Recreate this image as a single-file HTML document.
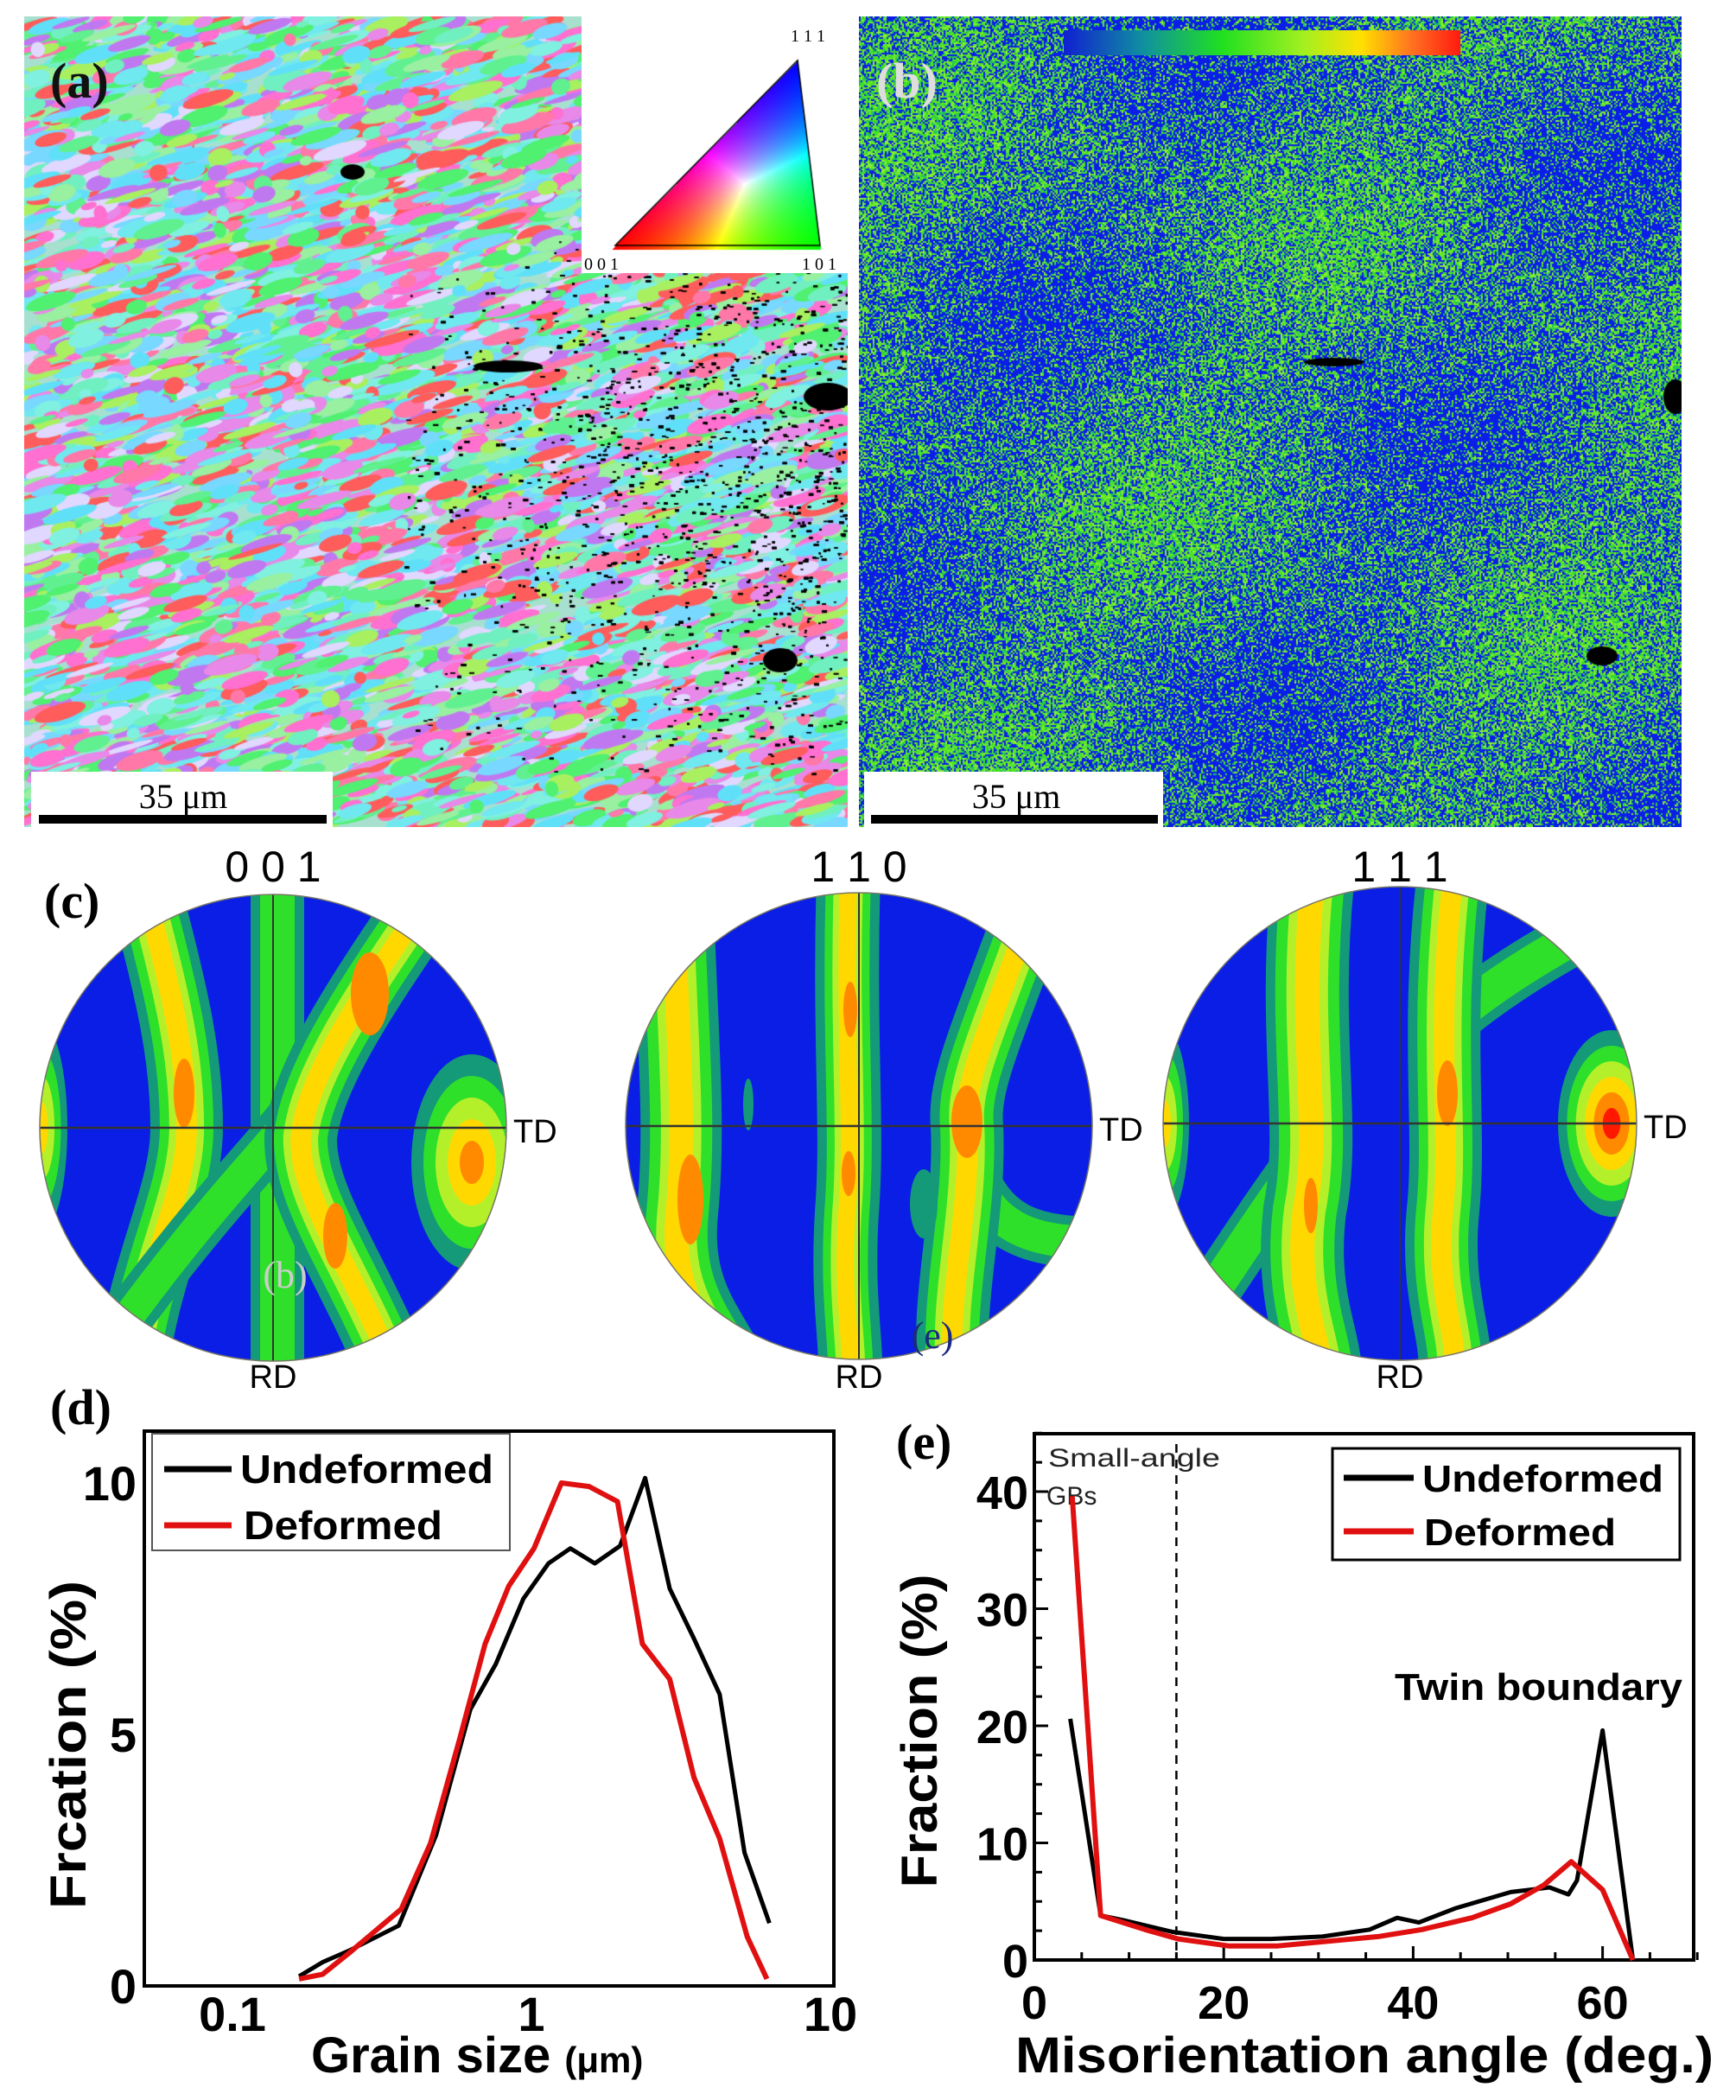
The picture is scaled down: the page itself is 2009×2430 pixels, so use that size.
<!DOCTYPE html>
<html><head><meta charset="utf-8">
<style>
html,body{margin:0;padding:0;background:#fff;}
#wrap{position:relative;width:2009px;height:2430px;overflow:hidden;background:#fff;}
canvas{position:absolute;}
svg{position:absolute;left:0;top:0;}
</style></head>
<body>
<div id="wrap">
<canvas id="mapA" width="953" height="938" style="left:28px;top:19px"></canvas>
<canvas id="mapB" width="952" height="938" style="left:994px;top:19px"></canvas>
<canvas id="tri" width="308" height="297" style="left:673px;top:19px"></canvas>
<svg id="fig" width="2009" height="2430" xmlns="http://www.w3.org/2000/svg">
<defs>
<linearGradient id="cbar" x1="0" x2="1" y1="0" y2="0">
<stop offset="0" stop-color="#1020d0"/><stop offset="0.2" stop-color="#1090a0"/><stop offset="0.4" stop-color="#20e020"/><stop offset="0.6" stop-color="#a0f020"/><stop offset="0.75" stop-color="#ffe000"/><stop offset="0.88" stop-color="#ff7020"/><stop offset="1" stop-color="#ff1a10"/>
</linearGradient>
<clipPath id="c1"><circle cx="316" cy="1305" r="270"/></clipPath>
<clipPath id="c2"><circle cx="994" cy="1303" r="270"/></clipPath>
<clipPath id="c3"><circle cx="1620" cy="1300" r="274"/></clipPath>
</defs>
<text x="58" y="113" font-family="Liberation Serif, serif" font-weight="bold" font-size="58" fill="#111">(a)</text>
<text x="1014" y="113" font-family="Liberation Serif, serif" font-weight="bold" font-size="58" fill="#ddd">(b)</text>
<text x="915" y="48" font-family="Liberation Serif, serif" font-size="20">1 1 1</text>
<text x="676" y="312" font-family="Liberation Serif, serif" font-size="20">0 0 1</text>
<text x="928" y="312" font-family="Liberation Serif, serif" font-size="20">1 0 1</text>
<rect x="1231" y="35" width="459" height="29" fill="url(#cbar)"/>
<g>
<rect x="36" y="893" width="349" height="64" fill="#fff"/>
<rect x="45" y="943" width="333" height="10" fill="#000"/>
<text x="212" y="935" text-anchor="middle" font-family="Liberation Serif, serif" font-size="40">35 μm</text>
</g>
<g>
<rect x="1000" y="893" width="346" height="64" fill="#fff"/>
<rect x="1008" y="943" width="332" height="10" fill="#000"/>
<text x="1176" y="935" text-anchor="middle" font-family="Liberation Serif, serif" font-size="40">35 μm</text>
</g>
<text x="51" y="1062" font-family="Liberation Serif, serif" font-weight="bold" font-size="58">(c)</text>
<g id="pfs"></g>
<g id="chartD"></g>
<g id="chartE"></g>
</svg>
</div>
<script>
// ---------- chart d data ----------
const dUndefX = [0.167,0.2,0.245,0.36,0.48,0.625,0.76,0.94,1.14,1.35,1.63,1.98,2.4,2.9,3.5,4.26,5.16,6.25];
const dUndefY = [0.19,0.47,0.7,1.2,3.0,5.5,6.4,7.7,8.4,8.7,8.4,8.75,10.1,7.9,6.9,5.8,2.65,1.25];
const dDefX = [0.167,0.2,0.245,0.367,0.46,0.575,0.7,0.84,1.02,1.26,1.56,1.94,2.35,2.9,3.5,4.26,5.27,6.13];
const dDefY = [0.14,0.23,0.65,1.53,2.84,4.9,6.8,7.95,8.7,10.0,9.93,9.63,6.8,6.1,4.14,2.93,0.98,0.14];
const dYTicks = [0,5,10];
const dXTicks = [0.1,1,10];
const dXTickLabels = ["0.1","1","10"];
// ---------- chart e data ----------
const eUndefX = [3.8,7,9.4,14.6,20,25,30.4,35.4,38.3,40.6,44.4,50.3,54.4,56.4,57.3,60,63.2];
const eUndefY = [20.6,3.8,3.4,2.4,1.8,1.8,2.0,2.6,3.6,3.2,4.4,5.8,6.2,5.6,6.8,19.6,0];
const eDefX = [4,7,11.7,15.2,20.5,25.7,31,36.3,40.9,46.2,50.3,53.8,56.7,60,63.2];
const eDefY = [39.6,3.8,2.6,1.8,1.2,1.2,1.6,2.0,2.6,3.6,4.8,6.4,8.4,6,0];
const eYTicks = [0,10,20,30,40];
const eXTicks = [0,20,40,60];
const eBoundary = [15];

const NS = "http://www.w3.org/2000/svg";
function mk(tag, attrs, parent, txt){
  const e = document.createElementNS(NS, tag);
  for (const k in attrs) e.setAttribute(k, attrs[k]);
  if (txt !== undefined) e.textContent = txt;
  parent.appendChild(e); return e;
}
const F = "Liberation Sans, Arial, sans-serif";

(function(){
  const g = document.getElementById('chartD');
  const L=167,R=965,T=1656,B=2298;
  const xd = v => 615 + Math.log10(v)*346;
  const yd = v => B - v*58.2;
  let t = mk('text',{x:58,y:1648,'font-family':'Liberation Serif, serif','font-weight':'bold','font-size':58},g,'(d)');
  
  
  let fr = mk('rect',{x:L,y:T,width:R-L,height:B-T,fill:'none',stroke:'#000','stroke-width':4},g);
  
  
  dYTicks.forEach(v=>{
    const e = mk('text',{x:158,y:yd(v)+20,'text-anchor':'end','font-family':F,'font-weight':'bold','font-size':56},g,String(v));
    
    
  });
  dXTicks.forEach((v,i)=>{
    const e = mk('text',{x:xd(v),y:2350,'text-anchor':'middle','font-family':F,'font-weight':'bold','font-size':56},g,dXTickLabels[i]);
    
    
  });
  const xt = mk('text',{x:360,y:2398,'font-family':F,'font-weight':'bold','font-size':58},g);
  
  
  xt.innerHTML = 'Grain size <tspan font-size="42">(μm)</tspan>';
  const yt = mk('text',{x:0,y:0,'text-anchor':'middle','font-family':F,'font-weight':'bold','font-size':58,textLength:380,lengthAdjust:'spacingAndGlyphs',transform:'translate(99,2019) rotate(-90)'},g,'Frcation (%)');
  
  
  const pts = (xs,ys)=>xs.map((x,i)=>xd(x).toFixed(1)+','+yd(ys[i]).toFixed(1)).join(' ');
  const l1 = mk('polyline',{points:pts(dUndefX,dUndefY),fill:'none',stroke:'#000','stroke-width':5,'stroke-linejoin':'round'},g);
  
  
  const l2 = mk('polyline',{points:pts(dDefX,dDefY),fill:'none',stroke:'#e01010','stroke-width':6,'stroke-linejoin':'round'},g);
  
  
  const lg = mk('g',{},g);
  
  
  mk('rect',{x:176,y:1659,width:414,height:135,fill:'#fff',stroke:'#555','stroke-width':2},lg);
  mk('line',{x1:190,y1:1700,x2:268,y2:1700,stroke:'#000','stroke-width':7},lg);
  mk('text',{x:278,y:1716,'font-family':F,'font-weight':'bold','font-size':46,textLength:293,lengthAdjust:'spacingAndGlyphs'},lg,'Undeformed');
  mk('line',{x1:190,y1:1765,x2:268,y2:1765,stroke:'#e01010','stroke-width':7},lg);
  mk('text',{x:282,y:1781,'font-family':F,'font-weight':'bold','font-size':46,textLength:230,lengthAdjust:'spacingAndGlyphs'},lg,'Deformed');
})();

(function(){
  const g = document.getElementById('chartE');
  const L=1197,R=1960,T=1659,B=2268;
  const xe = v => L + v*10.96;
  const ye = v => B - v*13.55;
  let t = mk('text',{x:1037,y:1688,'font-family':'Liberation Serif, serif','font-weight':'bold','font-size':58},g,'(e)');
  
  
  let fr = mk('rect',{x:L,y:T,width:R-L,height:B-T,fill:'none',stroke:'#000','stroke-width':4},g);
  
  
  for(let v=0; v<=45; v+=2.5){
    const len = (v%10===0)?16:9;
    mk('line',{x1:L,y1:ye(v),x2:L+len,y2:ye(v),stroke:'#000','stroke-width':3},g);
  }
  for(let v=0; v<=70; v+=5){
    const len = (v%20===0)?16:9;
    mk('line',{x1:xe(v),y1:B,x2:xe(v),y2:B-len,stroke:'#000','stroke-width':3},g);
  }
  eYTicks.forEach(v=>{
    const e = mk('text',{x:1190,y:ye(v)+20,'text-anchor':'end','font-family':F,'font-weight':'bold','font-size':54},g,String(v));
    
    
  });
  eXTicks.forEach(v=>{
    const e = mk('text',{x:xe(v),y:2336,'text-anchor':'middle','font-family':F,'font-weight':'bold','font-size':54},g,String(v));
    
    
  });
  const xt = mk('text',{x:1175,y:2398,'font-family':F,'font-weight':'bold','font-size':58,textLength:808,lengthAdjust:'spacingAndGlyphs'},g,'Misorientation angle (deg.)');
  
  
  const yt = mk('text',{x:0,y:0,'text-anchor':'middle','font-family':F,'font-weight':'bold','font-size':58,textLength:363,lengthAdjust:'spacingAndGlyphs',transform:'translate(1084,2003) rotate(-90)'},g,'Fraction (%)');
  
  
  eBoundary.forEach(v=>{
    const d = mk('line',{x1:xe(v),y1:T+12,x2:xe(v),y2:B,stroke:'#000','stroke-width':2.5,'stroke-dasharray':'10,8'},g);
    
    
  });
  const s1 = mk('text',{x:1213,y:1697,'font-family':F,'font-size':30,textLength:199,lengthAdjust:'spacingAndGlyphs',fill:'#222'},g,'Small-angle');
  
  
  const s2 = mk('text',{x:1211,y:1741,'font-family':F,'font-size':30,fill:'#222'},g,'GBs');
  
  
  const tw = mk('text',{x:1614,y:1967,'font-family':F,'font-weight':'bold','font-size':44,textLength:333,lengthAdjust:'spacingAndGlyphs'},g,'Twin boundary');
  
  
  const pts = (xs,ys)=>xs.map((x,i)=>xe(x).toFixed(1)+','+ye(ys[i]).toFixed(1)).join(' ');
  const l1 = mk('polyline',{points:pts(eUndefX,eUndefY),fill:'none',stroke:'#000','stroke-width':5,'stroke-linejoin':'round'},g);
  
  
  const l2 = mk('polyline',{points:pts(eDefX,eDefY),fill:'none',stroke:'#e01010','stroke-width':6,'stroke-linejoin':'round'},g);
  
  
  const lg = mk('g',{},g);
  
  
  mk('rect',{x:1542,y:1676,width:402,height:129,fill:'#fff',stroke:'#000','stroke-width':3},lg);
  mk('line',{x1:1555,y1:1710,x2:1636,y2:1710,stroke:'#000','stroke-width':7},lg);
  mk('text',{x:1646,y:1726,'font-family':F,'font-weight':'bold','font-size':44,textLength:279,lengthAdjust:'spacingAndGlyphs'},lg,'Undeformed');
  mk('line',{x1:1555,y1:1772,x2:1636,y2:1772,stroke:'#e01010','stroke-width':7},lg);
  mk('text',{x:1648,y:1788,'font-family':F,'font-weight':'bold','font-size':44,textLength:222,lengthAdjust:'spacingAndGlyphs'},lg,'Deformed');
})();

(function(){
  const g = document.getElementById('pfs');
  const BLUE='#0a1ee6', TEAL='#149a78', GREEN='#2fe02a', LGREEN='#b4f02a', YEL='#ffd800', ORG='#ff8a00', RED='#ff1800';
  function band(p, d, w, core){
    mk('path',{d:d,fill:'none',stroke:TEAL,'stroke-width':w+22,'stroke-linecap':'round'},p);
    mk('path',{d:d,fill:'none',stroke:GREEN,'stroke-width':w,'stroke-linecap':'round'},p);
    if(core){
      mk('path',{d:d,fill:'none',stroke:LGREEN,'stroke-width':w*0.65,'stroke-linecap':'round'},p);
      mk('path',{d:d,fill:'none',stroke:YEL,'stroke-width':w*0.38,'stroke-linecap':'round'},p);
    }
  }
  function blob(p,x,y,rx,ry,lev){
    const cols=[TEAL,GREEN,LGREEN,YEL,ORG,RED];
    for(let i=0;i<lev;i++){
      const f=1-i/(lev);
      mk('ellipse',{cx:x,cy:y,rx:rx*f,ry:ry*f,fill:cols[i]},p);
    }
  }
  function pf(cx,cy,r,clip,name,label,draw){
    const p = mk('g',{'clip-path':'url(#'+clip+')'},g);
    
    
    mk('circle',{cx:cx,cy:cy,r:r,fill:BLUE},p);
    const q = mk('g',{transform:'translate('+cx+','+cy+')'},p);
    draw(q);
    mk('line',{x1:cx-r,y1:cy,x2:cx+r,y2:cy,stroke:'#333','stroke-width':2.5},g);
    mk('line',{x1:cx,y1:cy-r,x2:cx,y2:cy+r,stroke:'#333','stroke-width':2},g);
    mk('circle',{cx:cx,cy:cy,r:r,fill:'none',stroke:'#776','stroke-width':1.5},g);
    const t=mk('text',{x:cx,y:1020,'text-anchor':'middle','font-family':F,'font-size':50},g,label);
    
    
    const td=mk('text',{x:cx+r+8,y:cy+17,'font-family':F,'font-size':38},g,'TD');
    
    
    const rd=mk('text',{x:cx,y:1606,'text-anchor':'middle','font-family':F,'font-size':38},g,'RD');
    
    
  }
  pf(316,1305,270,'c1','pole-figure-001','0 0 1',q=>{
    blob(q,-268,0,30,120,4);
    band(q,'M -150,-280 C -115,-150 -100,-80 -100,0 C -100,80 -150,160 -165,290',62,true);
    band(q,'M 5,-290 L 5,290',40,false);
    band(q,'M -190,250 C -90,110 -20,40 20,-10',36,false);
    band(q,'M 175,-260 C 100,-150 40,-60 32,10 C 30,80 85,150 140,280',62,true);
    mk('ellipse',{cx:-103,cy:-40,rx:12,ry:40,fill:ORG},q);
    mk('ellipse',{cx:112,cy:-155,rx:22,ry:48,fill:ORG},q);
    mk('ellipse',{cx:72,cy:125,rx:14,ry:38,fill:ORG},q);
    blob(q,230,40,70,125,5);
  });
  const tb = mk('text',{x:330,y:1490,'text-anchor':'middle','font-family':'Liberation Serif, serif','font-size':44,fill:'#ccc'},g,'(b)');
  pf(994,1303,270,'c2','pole-figure-110','1 1 0',q=>{
    band(q,'M -215,-260 C -210,-100 -200,0 -210,100 C -220,200 -170,240 -150,290',72,true);
    band(q,'M -12,-290 C -18,-100 -6,0 -14,100 C -20,200 -8,250 -10,290',52,true);
    band(q,'M 125,40 C 150,120 200,135 280,135',38,false);
    band(q,'M 200,-250 C 150,-110 120,-50 125,0 C 130,100 100,200 110,290',62,true);
    mk('ellipse',{cx:-195,cy:85,rx:15,ry:52,fill:ORG},q);
    mk('ellipse',{cx:-10,cy:-135,rx:8,ry:32,fill:ORG},q);
    mk('ellipse',{cx:-12,cy:55,rx:8,ry:26,fill:ORG},q);
    mk('ellipse',{cx:125,cy:-5,rx:18,ry:42,fill:ORG},q);
    mk('ellipse',{cx:-128,cy:-25,rx:6,ry:30,fill:TEAL},q);
    mk('ellipse',{cx:75,cy:90,rx:16,ry:40,fill:TEAL},q);
  });
  const te = mk('text',{x:1079,y:1560,'text-anchor':'middle','font-family':'Liberation Serif, serif','font-size':44,fill:'#1a2a80'},g,'(e)');
  pf(1620,1300,274,'c3','pole-figure-111','1 1 1',q=>{
    blob(q,-272,0,28,110,4);
    band(q,'M -240,230 C -180,140 -140,80 -110,40',40,false);
    band(q,'M 60,-120 C 120,-170 190,-210 250,-240',40,false);
    band(q,'M -100,-290 C -120,-100 -90,0 -110,100 C -122,200 -92,250 -92,290',74,true);
    band(q,'M 62,-290 C 40,-100 60,0 50,100 C 40,200 70,250 62,290',62,true);
    mk('ellipse',{cx:-103,cy:95,rx:8,ry:32,fill:ORG},q);
    mk('ellipse',{cx:55,cy:-35,rx:12,ry:38,fill:ORG},q);
    blob(q,245,0,62,108,6);
  });
  
  
  
  
})();

let seed = 12345;
function rnd(){ seed = (seed*1103515245 + 12345) % 2147483648; return seed/2147483648; }
(function(){
  const c = document.getElementById('mapA').getContext('2d');
  c.fillStyle='#a8e0d0'; c.fillRect(0,0,953,938);
  const cols=['#ff78a8','#60f090','#70e8f0','#c078f0','#ff5c5c','#e888e8','#a8f060','#78d8ff','#70f0c0','#e0d8ff','#50f070','#80f0e0','#ff70d0','#98f0a0','#60e0f8'];
  for(let i=0;i<7000;i++){
    const x=rnd()*953, y=rnd()*938;
    c.fillStyle=cols[Math.floor(rnd()*cols.length)];
    c.beginPath();
    c.ellipse(x,y,7+rnd()*26,3+rnd()*7,-0.28,0,Math.PI*2);
    c.fill();
  }
  c.fillStyle='#000';
  for(let i=0;i<9000;i++){
    const x=440+rnd()*513, y=260+rnd()*620;
    const dx=(x-880)/400, dy=(y-520)/300;
    if(rnd() > Math.exp(-(dx*dx+dy*dy)*1.3)) continue;
    c.fillRect(x,y,2+rnd()*4,1+rnd()*2);
  }
  c.beginPath(); c.ellipse(930,440,28,16,0,0,Math.PI*2); c.fill();
  c.beginPath(); c.ellipse(875,745,20,14,0,0,Math.PI*2); c.fill();
  c.beginPath(); c.ellipse(560,405,40,7,0,0,Math.PI*2); c.fill();
  c.beginPath(); c.ellipse(380,180,14,9,0,0,Math.PI*2); c.fill();
})();
(function(){
  const c = document.getElementById('mapB').getContext('2d');
  c.fillStyle='#0a1ee8'; c.fillRect(0,0,952,938);
  const cols=['#3ee020','#8cf030','#22c060','#60e828'];
  for(let y=0;y<938;y+=2){
    for(let x=0;x<952;x+=2){
      const d=0.48+0.15*Math.sin(x/90+y/140)+0.1*Math.sin(y/60-x/200);
      if(rnd()<d){ c.fillStyle=cols[Math.floor(rnd()*4)]; c.fillRect(x,y,2,2); }
    }
  }
  c.fillStyle='#000';
  c.beginPath(); c.ellipse(945,440,14,20,0,0,Math.PI*2); c.fill();
  c.beginPath(); c.ellipse(860,740,18,11,0,0,Math.PI*2); c.fill();
  c.beginPath(); c.ellipse(550,400,35,5,0,0,Math.PI*2); c.fill();
})();
(function(){
  const cv = document.getElementById('tri'); const c = cv.getContext('2d');
  c.fillStyle='#fff'; c.fillRect(0,0,308,297);
  const A=[39,265], Bp=[276,265], C=[250,51];
  const img=c.getImageData(0,0,308,297);
  const det=(Bp[1]-C[1])*(A[0]-C[0])+(C[0]-Bp[0])*(A[1]-C[1]);
  for(let y=0;y<297;y++)for(let x=0;x<308;x++){
    const l1=((Bp[1]-C[1])*(x-C[0])+(C[0]-Bp[0])*(y-C[1]))/det;
    const l2=((C[1]-A[1])*(x-C[0])+(A[0]-C[0])*(y-C[1]))/det;
    const l3=1-l1-l2;
    if(l1>=0&&l2>=0&&l3>=-0.02){
      const m=Math.max(l1,l2,Math.max(l3,0))||1;
      const i=(y*308+x)*4;
      img.data[i]=255*l1/m; img.data[i+1]=255*l2/m; img.data[i+2]=255*Math.max(l3,0)/m;
    }
  }
  c.putImageData(img,0,0);
  c.strokeStyle='#000'; c.lineWidth=1.5;
  c.beginPath(); c.moveTo(A[0],A[1]); c.lineTo(Bp[0],Bp[1]); c.lineTo(C[0],C[1]); c.closePath(); c.stroke();
})();
</script>
</body></html>
